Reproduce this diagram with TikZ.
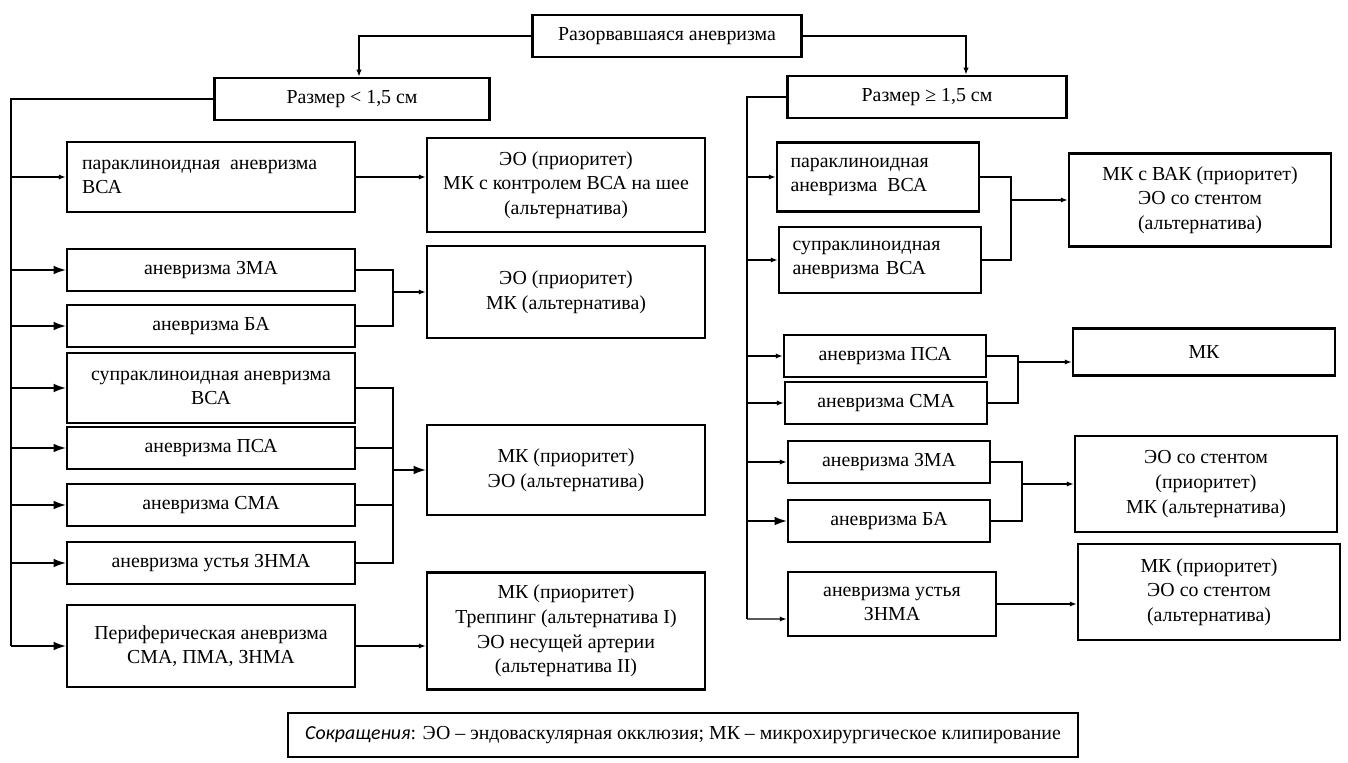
\documentclass[tikz,border=0pt]{standalone}
\usepackage{fontspec}
\setmainfont{Liberation Serif}
\newfontfamily\calibri{Carlito}
\usepackage{tikz}
\usetikzlibrary{arrows.meta}

\begin{document}
\begin{tikzpicture}[x=0.02cm, y=-0.02cm, line width=0.8pt, font=\fontsize{11.3}{14}\selectfont]
  \tikzset{box/.style={draw, rectangle, line width=1.4pt, align=center, inner sep=2pt, minimum height=0.84cm}}
  \tikzset{lbox/.style={box, minimum width=5.76cm}}
  \tikzset{mbox/.style={box, minimum width=5.56cm}}
  \tikzset{rbox/.style={box, minimum width=4.04cm}}
  \tikzset{tbox/.style={box, minimum width=5.24cm}}
  \tikzset{arr/.style={-{Latex[length=7pt, width=5pt]}}}
  \tikzset{tick/.style={-{Latex[length=4pt, width=3pt]}}}

  \useasboundingbox (0, 0) rectangle (1348, 763);

  \node [box, minimum width=5.38cm] (root) at (667, 36) {Разорвавшаяся аневризма};
  \node [box, minimum width=5.5cm] (small) at (352, 99) {Размер < 1,5 см};
  \node [box, minimum width=5.58cm] (big) at (927, 97) {Размер ≥ 1,5 см};

  % left column
  \node [lbox, minimum height=1.4cm, align=left, text width=5.16cm] (p1) at (211, 177) {параклиноидная\, аневризма\\ВСА};
  \foreach \n/\y/\t in {z1/270/{аневризма ЗМА}, b1/326/{аневризма БА}, pc1/448/{аневризма ПСА}, sm1/505/{аневризма СМА}, u1/563/{аневризма устья ЗНМА}} {
    \node [lbox] (\n) at (211, \y) {\t};
  }
  \node [lbox, minimum height=1.4cm] (s1) at (211, 388) {супраклиноидная аневризма\\ВСА};
  \node [lbox, minimum height=1.64cm] (per) at (211, 646) {Периферическая аневризма\\СМА, ПМА, ЗНМА};

  \node [mbox, minimum height=1.88cm] (t1) at (566, 185) {ЭО (приоритет)\\МК с контролем ВСА на шее\\(альтернатива)};
  \node [mbox, minimum height=1.84cm] (t2) at (566, 292) {ЭО (приоритет)\\МК (альтернатива)};
  \node [mbox, minimum height=1.8cm] (t3) at (566, 470) {МК (приоритет)\\ЭО (альтернатива)};
  \node [mbox, minimum height=2.34cm] (t4) at (566, 631) {МК (приоритет)\\Треппинг (альтернатива I)\\ЭО несущей артерии\\(альтернатива II)};

  % right column
  \node [rbox, minimum height=1.38cm, align=left, text width=3.5cm] (rp) at (878, 177) {параклиноидная\\аневризма\, ВСА};
  \node [rbox, minimum height=1.32cm, align=left, text width=3.5cm] (rs) at (880, 260) {супраклиноидная\\аневризма ВСА};
  \foreach \n/\x/\y/\t in {rpc/885/356/{аневризма ПСА}, rsm/886/403/{аневризма СМА}, rz/889/462/{аневризма ЗМА}, rb/889/521/{аневризма БА}} {
    \node [rbox] (\n) at (\x, \y) {\t};
  }
  \node [rbox, minimum width=4.16cm, minimum height=1.28cm] (ru) at (892, 604) {аневризма устья\\ЗНМА};

  \node [tbox, minimum height=1.86cm] (rt1) at (1200, 200) {МК с ВАК (приоритет)\\ЭО со стентом\\(альтернатива)};
  \node [tbox, minimum height=0.94cm] (rt2) at (1204, 352) {МК};
  \node [tbox, minimum height=1.92cm] (rt3) at (1206, 484) {ЭО со стентом\\(приоритет)\\МК (альтернатива)};
  \node [tbox, minimum height=1.92cm] (rt4) at (1209, 592) {МК (приоритет)\\ЭО со стентом\\(альтернатива)};

  \node [draw, line width=0.9pt, minimum width=15.8cm, minimum height=0.88cm] (legend) at (683, 735)
    {{\calibri\itshape Сокращения}: ЭО – эндоваскулярная окклюзия; МК – микрохирургическое клипирование};

  % Edges
  \draw [tick] (root.west) -| ([xshift=0.14cm]small.north);
  \draw [tick] (root.east) -| ([xshift=0.78cm]big.north);

  \coordinate (lbus) at (11, 646);
  \draw (small.west) -| (lbus);
  \draw [tick] (lbus |- p1.west) -- (p1.west);
  \foreach \n in {z1, b1, s1, pc1, sm1, u1, per} {
    \draw [arr] (lbus |- \n.west) -- (\n.west);
  }

  \coordinate (lj) at (393, 0);
  \draw [tick] (p1.east) -- (p1.east -| t1.west);
  \draw (z1.east) -| (lj |- t2.west) |- (b1.east);
  \draw [tick] (lj |- t2.west) -- (t2.west);
  \draw (s1.east) -| (lj |- u1.east) -- (u1.east);
  \foreach \n in {pc1, sm1} {
    \draw (\n.east) -- (\n.east -| lj);
  }
  \draw [arr] (lj |- t3.west) -- (t3.west);
  \draw [tick] (per.east) -- (per.east -| t4.west);

  \coordinate (rbus) at (747, 619);
  \draw (big.west) -| (rbus);
  \foreach \n in {rp, rs, rpc, rsm, rz} {
    \draw [tick] (rbus |- \n.west) -- (\n.west);
  }
  \draw [arr] (rbus |- rb.west) -- (rb.west);
  \draw [tick] (rbus) -- ([yshift=-0.3cm]ru.west);

  \coordinate (rj1) at (1011, 0);
  \draw (rp.east) -| (rj1 |- rt1.west) |- (rs.east);
  \draw [tick] (rj1 |- rt1.west) -- (rt1.west);
  \coordinate (rj2) at (1018, 0);
  \coordinate (mkin) at ([yshift=-0.2cm]rt2.west);
  \draw (rpc.east) -| (rj2 |- rsm.east) -- (rsm.east);
  \draw [tick] (rj2 |- mkin) -- (mkin);
  \coordinate (rj3) at (1022, 0);
  \draw (rz.east) -| (rj3 |- rb.east) -- (rb.east);
  \draw [tick] (rj3 |- rt3.west) -- (rt3.west);
  \draw [tick] (ru.east) -- (ru.east -| rt4.west);

\end{tikzpicture}
\end{document}
